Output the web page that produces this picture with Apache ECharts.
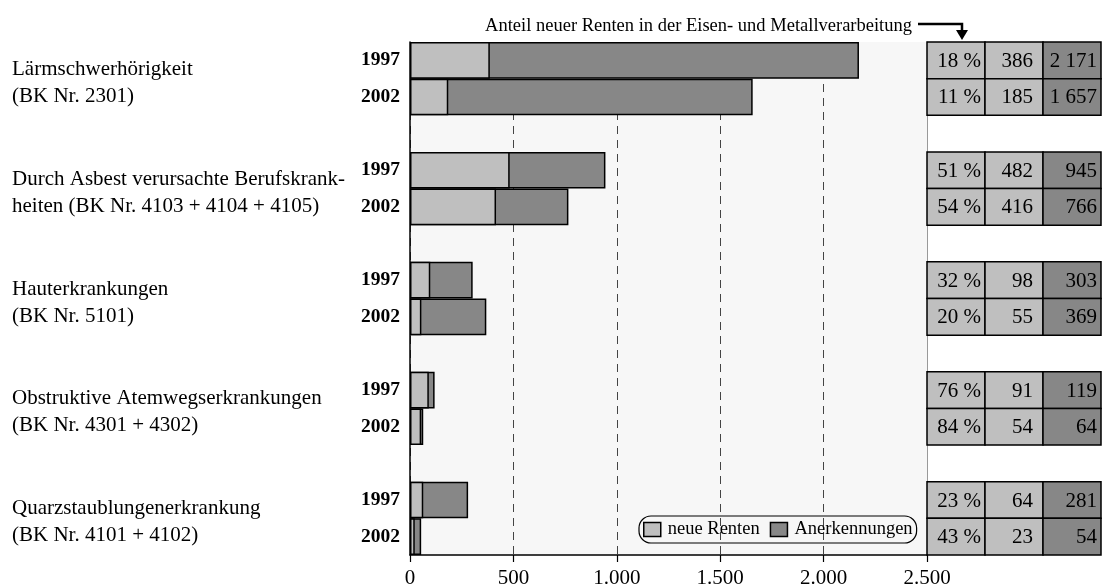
<!DOCTYPE html>
<html>
<head>
<meta charset="utf-8">
<script src="https://cdn.jsdelivr.net/npm/echarts@6/dist/echarts.min.js"></script>
<style>
  html, body { margin: 0; padding: 0; background: #ffffff; }
  #chart { width: 1104px; height: 587px; }
</style>
</head>
<body>
<div id="chart"></div>
<script>
// Berufskrankheiten: Anerkennungen und neue Renten, 1997 und 2002
const groupNames = [
  'Lärmschwerhörigkeit\n(BK Nr. 2301)',
  'Durch Asbest verursachte Berufskrank-\nheiten (BK Nr. 4103 + 4104 + 4105)',
  'Hauterkrankungen\n(BK Nr. 5101)',
  'Obstruktive Atemwegserkrankungen\n(BK Nr. 4301 + 4302)',
  'Quarzstaublungenerkrankung\n(BK Nr. 4101 + 4102)'
];
const years = ['1997', '2002'];
// per group: [1997, 2002]
const neueRenten    = [[386, 185], [482, 416], [98, 55], [91, 54], [64, 23]];
const anerkennungen = [[2171, 1657], [945, 766], [303, 369], [119, 64], [281, 54]];
const anteilNeu     = [[18, 11], [51, 54], [32, 20], [76, 84], [23, 43]];
const xTicks = [0, 500, 1000, 1500, 2000, 2500];
const annotation = 'Anteil neuer Renten in der Eisen- und Metallverarbeitung';

const FONT = '"Liberation Serif", "Times New Roman", serif';
const LIGHT = '#bfbfbf';
const DARK = '#878787';

// Each group takes two bar rows followed by one empty spacer row.
const slots = [];
const slotOf = [];
groupNames.forEach((g, gi) => {
  slotOf.push([slots.length, slots.length + 1]);
  years.forEach(y => slots.push(y));
  if (gi < groupNames.length - 1) slots.push('');
});
const slotIds = slots.map((s, i) => 's' + i);

function fill(src) {
  const arr = slots.map(() => null);
  src.forEach((pair, gi) => pair.forEach((v, yi) => { arr[slotOf[gi][yi]] = v; }));
  return arr;
}
const anerkData = fill(anerkennungen);
const neueData = fill(neueRenten);

function fmtThousands(v, sep) {
  return String(v).replace(/\B(?=(\d{3})+(?!\d))/g, sep);
}

// table cells: [column, slot, text]
const tableData = [];
groupNames.forEach((g, gi) => {
  years.forEach((y, yi) => {
    const s = slotOf[gi][yi];
    tableData.push([0, s, anteilNeu[gi][yi] + ' %']);
    tableData.push([1, s, fmtThousands(neueRenten[gi][yi], ' ')]);
    tableData.push([2, s, fmtThousands(anerkennungen[gi][yi], ' ')]);
  });
});

const nameData = groupNames.map((n, gi) => [0, slotOf[gi][0], n]);

const chart = echarts.init(document.getElementById('chart'), null, { renderer: 'canvas' });

const option = {
  backgroundColor: '#ffffff',
  animation: false,
  textStyle: { fontFamily: FONT },
  title: {
    text: annotation,
    right: 187,
    top: 12,
    textStyle: { fontFamily: FONT, fontSize: 18.5, fontWeight: 'normal', color: '#000' }
  },
  legend: {
    data: ['neue Renten', 'Anerkennungen'],
    left: 639,
    top: 516,
    padding: [4, 4, 4, 4],
    itemWidth: 17,
    itemHeight: 14,
    itemGap: 10,
    icon: 'rect',
    borderColor: '#000',
    borderWidth: 1.2,
    borderRadius: 12,
    itemStyle: { borderColor: '#000', borderWidth: 1.5 },
    textStyle: { fontFamily: FONT, fontSize: 18.5, color: '#000', padding: [0, 0, 0, 2] }
  },
  grid: [
    { left: 410, right: 177, top: 42, bottom: 32, show: true, backgroundColor: '#f7f7f7', borderWidth: 0,
      containLabel: false, outerBoundsMode: 'none' },
    { left: 927, right: 3, top: 42, bottom: 32, containLabel: false, outerBoundsMode: 'none' }
  ],
  xAxis: [
    {
      gridIndex: 0, type: 'value', min: xTicks[0], max: xTicks[xTicks.length - 1], interval: 500,
      axisLine: { show: true, lineStyle: { color: '#000', width: 1.5 } },
      axisTick: { show: true, length: 7, lineStyle: { color: '#000', width: 1.2 } },
      axisLabel: {
        margin: 13, fontFamily: FONT, fontSize: 21, color: '#000',
        formatter: v => fmtThousands(v, '.')
      },
      splitLine: { show: true, lineStyle: { color: '#444', width: 1, type: [8, 6] } }
    },
    {
      gridIndex: 1, type: 'category', data: ['anteil', 'neu', 'anerk'],
      show: false
    }
  ],
  yAxis: [
    {
      gridIndex: 0, type: 'category', data: slotIds, inverse: true,
      axisLine: { show: true, lineStyle: { color: '#000', width: 1.5 } },
      axisTick: { show: false },
      axisLabel: {
        margin: 10, fontFamily: FONT, fontSize: 19.5, fontWeight: 'bold', color: '#000',
        formatter: (v, i) => slots[i]
      },
      splitLine: { show: false }
    },
    {
      gridIndex: 1, type: 'category', data: slotIds, inverse: true,
      axisLine: { show: true, lineStyle: { color: '#999', width: 1 } },
      axisTick: { show: false },
      axisLabel: { show: false },
      splitLine: { show: false }
    }
  ],
  series: [
    {
      name: 'Anerkennungen', type: 'bar', xAxisIndex: 0, yAxisIndex: 0,
      data: anerkData, barWidth: '100%', barGap: '-100%', barCategoryGap: 0,
      itemStyle: { color: DARK, borderColor: '#000', borderWidth: 1.5 },
      z: 2
    },
    {
      name: 'neue Renten', type: 'bar', xAxisIndex: 0, yAxisIndex: 0,
      data: neueData, barWidth: '100%', barGap: '-100%', barCategoryGap: 0,
      itemStyle: { color: LIGHT, borderColor: '#000', borderWidth: 1.5 },
      z: 3
    },
    {
      // group names, left of the year labels, centred between the two rows
      type: 'custom', xAxisIndex: 0, yAxisIndex: 0, clip: false, silent: true,
      data: nameData,
      renderItem: (params, api) => {
        const p = api.coord([0, api.value(1)]);
        const h = api.size([0, 1])[1];
        return {
          type: 'text',
          x: 12,
          y: p[1] + h / 2 + 4,
          style: {
            text: nameData[params.dataIndex][2],
            font: '21px ' + FONT,
            fill: '#000',
            verticalAlign: 'middle',
            align: 'left',
            lineHeight: 27
          }
        };
      }
    },
    {
      // value table to the right of the plot
      type: 'custom', xAxisIndex: 1, yAxisIndex: 1, clip: false, silent: true,
      data: tableData,
      renderItem: (params, api) => {
        const col = api.value(0);
        const c = api.coord([col, api.value(1)]);
        const sz = api.size([1, 1]);
        const x0 = c[0] - sz[0] / 2, y0 = c[1] - sz[1] / 2;
        const pads = [4, 10, 4];
        return {
          type: 'group',
          children: [
            {
              type: 'rect',
              shape: { x: x0, y: y0, width: sz[0], height: sz[1] },
              style: { fill: col === 2 ? DARK : LIGHT, stroke: '#000', lineWidth: 1.5 }
            },
            {
              type: 'text',
              x: x0 + sz[0] - pads[col],
              y: c[1] + 1,
              style: {
                text: tableData[params.dataIndex][2],
                font: '21px ' + FONT,
                fill: '#000',
                align: 'right',
                verticalAlign: 'middle'
              }
            }
          ]
        };
      }
    }
  ],
  graphic: [
    {
      type: 'polyline',
      shape: { points: [[918, 24], [962, 24], [962, 32]] },
      style: { stroke: '#000', lineWidth: 2.5, fill: null }
    },
    {
      type: 'polygon',
      shape: { points: [[956, 30], [968, 30], [962, 40]] },
      style: { fill: '#000' }
    }
  ]
};

chart.setOption(option);
</script>
</body>
</html>
